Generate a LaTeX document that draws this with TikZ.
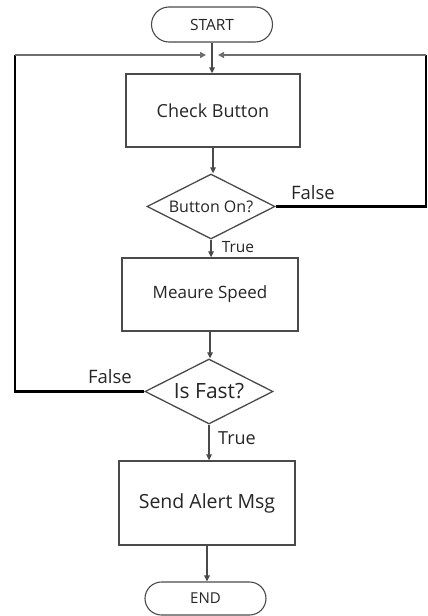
\documentclass[tikz,border=0pt]{standalone}
\usepackage{fontspec}
\setmainfont{Open Sans}
\usetikzlibrary{shapes.geometric,shapes.misc,arrows.meta}
\newcommand{\fsz}[1]{\fontsize{#1}{#1}\selectfont}
\definecolor{edge}{HTML}{4A4A4A}
\definecolor{ink}{HTML}{262626}
\tikzset{
  box/.style={draw=edge, line width=1.3pt, rectangle, inner sep=0pt, text=ink},
  terminal/.style={draw=edge, line width=1.1pt, rounded rectangle, inner sep=0pt, text=ink},
  decision/.style={draw=edge, line width=1.3pt, diamond, aspect=2, inner sep=0pt, text=ink},
  flow/.style={draw=edge, line width=1.3pt, -{Triangle[length=6pt,width=5.5pt]}},
  loopline/.style={draw=black, line width=2.2pt},
  topline/.style={draw=edge!80, line width=1.6pt, -{Triangle[length=6pt,width=6pt]}},
  lbl/.style={text=ink, inner sep=0pt}
}
\begin{document}
\begin{tikzpicture}[x=1pt, y=-1pt]
  \useasboundingbox (0,0) rectangle (428,616);
  \fill[white] (0,0) rectangle (428,616);

  % nodes
  \node[terminal, minimum width=121pt, minimum height=35pt] (start) at (212,24.5) {\fsz{15.5}START};
  \node[box, minimum width=174pt, minimum height=73pt] (check) at (213,110.5) {\fsz{18}Check Button};
  \node[decision, minimum width=128pt, minimum height=65pt] (bon) at (211,206.5) {\fsz{16}Button On?};
  \node[box, minimum width=176pt, minimum height=73pt] (meas) at (210,294.5) {\fsz{17}Meaure Speed};
  \node[decision, minimum width=128pt, minimum height=65pt] (fast) at (209,391.5) {\fsz{21}Is Fast?};
  \node[box, minimum width=176pt, minimum height=84pt] (send) at (207,503) {\fsz{19.5}Send Alert Msg};
  \node[terminal, minimum width=121pt, minimum height=33pt] (end) at (205.5,598.5) {\fsz{15}END};

  % loop-back corners and junction
  \coordinate (jn) at (212,55);
  \coordinate (rc) at (426,55);
  \coordinate (lc) at (15,55);

  % main flow
  \draw[flow] (start.south) -- (start.south |- check.north);
  \draw[flow] (check.south) -- (check.south |- bon.north);
  \draw[flow] (bon.south) -- (bon.south |- meas.north);
  \draw[flow] (meas.south) -- (meas.south |- fast.north);
  \draw[flow] (fast.south) -- (fast.south |- send.north);
  \draw[flow] (send.south) -- (send.south |- end.north);

  % false branches back to the top
  \draw[loopline] (bon.east) -| (rc);
  \draw[loopline] (fast.west) -| (lc);
  \draw[topline] (rc) -- ([xshift=6pt]jn);
  \draw[topline] (lc) -- ([xshift=-6pt]jn);

  % branch labels
  \node[lbl] (f1) at (313,193) {\fsz{18.5}False};
  \node[lbl] (t1) at (238,247) {\fsz{15.5}True};
  \node[lbl] (f2) at (110,377) {\fsz{18.5}False};
  \node[lbl] (t2) at (237,438) {\fsz{18}True};
\end{tikzpicture}
\end{document}
